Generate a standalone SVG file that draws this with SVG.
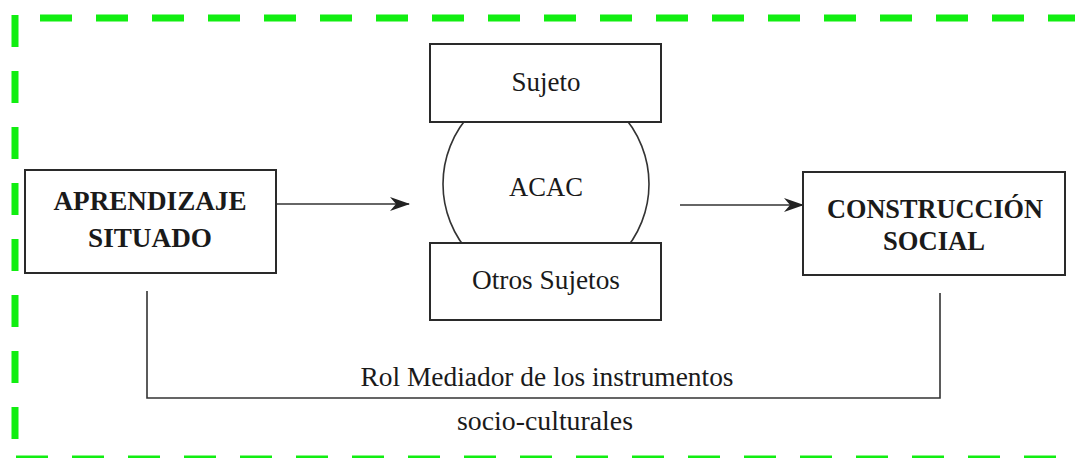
<svg xmlns="http://www.w3.org/2000/svg" width="1075" height="458" viewBox="0 0 1075 458">
<style>
.box{fill:#fff;stroke:#2a2a2a;stroke-width:2}
.bold{font-family:"Liberation Serif","Times New Roman",serif;font-weight:bold;font-size:28px;fill:#1a1a1a;text-anchor:middle}
.reg{font-family:"Liberation Serif","Times New Roman",serif;font-size:28px;fill:#1a1a1a;text-anchor:middle}
.conn{fill:none;stroke:#333;stroke-width:1.6}
.frame{fill:none;stroke:#11ee11;stroke-width:7;stroke-dasharray:32 24}
</style>
<defs>
<marker id="arr" viewBox="0 0 20 14" refX="19" refY="7" markerWidth="20" markerHeight="14" markerUnits="userSpaceOnUse" orient="auto">
<path d="M0,0 L20,7 L0,14 L6,7 Z" fill="#222"/>
</marker>
</defs>
<rect width="1075" height="458" fill="#fff"/>
<g id="frame">
<line class="frame" x1="40" y1="18" x2="1075" y2="18"/>
<line class="frame" x1="15" y1="15" x2="15" y2="458"/>
<line class="frame" x1="16" y1="459" x2="1075" y2="459"/>
</g>
<g id="connectors">
<line class="conn" x1="277" y1="204" x2="409" y2="204" marker-end="url(#arr)"/>
<line class="conn" x1="680" y1="205" x2="803" y2="205" stroke="#555" marker-end="url(#arr)"/>
<path class="conn" d="M147,291 V398 H940 V293"/>
</g>
<g id="acac">
<circle cx="546" cy="184" r="103" fill="#fff" stroke="#333" stroke-width="1.6"/>
<text class="reg" x="546" y="196" textLength="74" lengthAdjust="spacingAndGlyphs">ACAC</text>
</g>
<g id="sujeto">
<rect class="box" x="430" y="44" width="231" height="78"/>
<text class="reg" x="546" y="91" textLength="69" lengthAdjust="spacingAndGlyphs">Sujeto</text>
</g>
<g id="otros">
<rect class="box" x="430" y="243" width="231" height="77"/>
<text class="reg" x="546" y="289" textLength="148" lengthAdjust="spacingAndGlyphs">Otros Sujetos</text>
</g>
<g id="aprendizaje">
<rect class="box" x="25" y="170" width="251" height="103"/>
<text class="bold" x="150" y="210" textLength="193" lengthAdjust="spacingAndGlyphs">APRENDIZAJE</text>
<text class="bold" x="150" y="247" textLength="124" lengthAdjust="spacingAndGlyphs">SITUADO</text>
</g>
<g id="construccion">
<rect class="box" x="803" y="172" width="262" height="103"/>
<text class="bold" x="935" y="218" textLength="216" lengthAdjust="spacingAndGlyphs">CONSTRUCCIÓN</text>
<text class="bold" x="934" y="250" textLength="102" lengthAdjust="spacingAndGlyphs">SOCIAL</text>
</g>
<g id="labels">
<text class="reg" x="547" y="386" textLength="373" lengthAdjust="spacingAndGlyphs">Rol Mediador de los instrumentos</text>
<text class="reg" x="545" y="430" textLength="176" lengthAdjust="spacingAndGlyphs">socio-culturales</text>
</g>
</svg>
